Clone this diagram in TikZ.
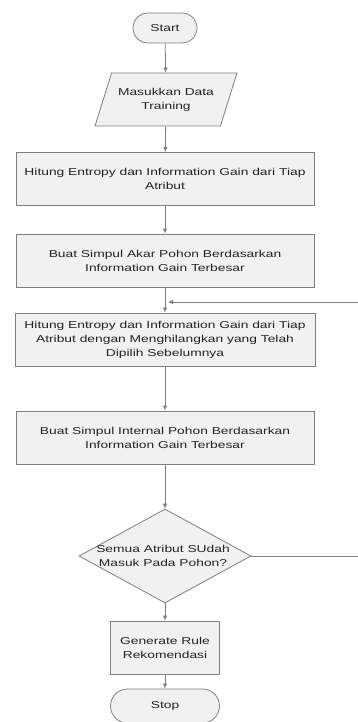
\documentclass[tikz,border=0pt]{standalone}
\usepackage{fontspec}
\setmainfont{Liberation Sans}[FakeStretch=1.38]
\usetikzlibrary{shapes.geometric,arrows.meta}
\definecolor{boxfill}{HTML}{F1F1F1}
\definecolor{boxline}{HTML}{7F7F7F}
\definecolor{txtcol}{HTML}{222222}
\begin{document}
\begin{tikzpicture}[x=1pt,y=-1pt,
  every node/.style={font=\fontsize{10}{14}\selectfont, text=txtcol, align=center, inner sep=0pt},
  stepbox/.style={draw=boxline, fill=boxfill, line width=0.8pt, minimum width=298pt, minimum height=53pt},
  terminal/.style={draw=boxline, fill=boxfill, line width=0.8pt, rounded corners=15pt},
  iobox/.style={draw=boxline, fill=boxfill, line width=0.8pt, trapezium, trapezium left angle=58, trapezium right angle=122, trapezium stretches=true, minimum width=142pt, minimum height=53pt},
  decision/.style={draw=boxline, fill=boxfill, line width=0.8pt, diamond, minimum width=172pt, minimum height=94pt},
  conn/.style={draw=boxline, line width=0.8pt, -{Latex[length=5pt,width=4.5pt]}},
  plain/.style={draw=boxline, line width=0.8pt}]
\useasboundingbox (0,0) rectangle (358,722);
\node[terminal, minimum width=64pt, minimum height=30pt] (start) at (165,28) {Start};
\node[iobox] (input) at (166,99.5) {Masukkan Data\\Training};
\node[stepbox] (b1) at (165,179) {Hitung Entropy dan Information Gain dari Tiap\\Atribut};
\node[stepbox] (b2) at (165,260.5) {Buat Simpul Akar Pohon Berdasarkan\\Information Gain Terbesar};
\node[stepbox, minimum width=300pt] (b3) at (165,339.5) {Hitung Entropy dan Information Gain dari Tiap\\Atribut dengan Menghilangkan yang Telah\\Dipilih Sebelumnya};
\node[stepbox] (b4) at (165,437.5) {Buat Simpul Internal Pohon Berdasarkan\\Information Gain Terbesar};
\node[decision] (dec) at (165,556) {};
\node (dectext) at (163,556) {Semua Atribut SUdah\\Masuk Pada Pohon?};
\node[stepbox, minimum width=109pt] (b5) at (165,647.5) {Generate Rule\\Rekomendasi};
\node[terminal, minimum width=109pt, minimum height=34pt, rounded corners=17pt] (stop) at (165,706) {Stop};
\coordinate (join) at (168,302);
\coordinate (rt) at (362,556);
\draw[conn] (start) -- (input);
\draw[conn] (input) -- (b1);
\draw[conn] (b1) -- (b2);
\draw[conn] (b2) -- (b3);
\draw[conn] (b3) -- (b4);
\draw[conn] (b4) -- (dec);
\draw[conn] (dec) -- (b5);
\draw[conn] (b5) -- (stop);
\draw[conn] (dec.east) -- (rt) |- (join);
\end{tikzpicture}
\end{document}
